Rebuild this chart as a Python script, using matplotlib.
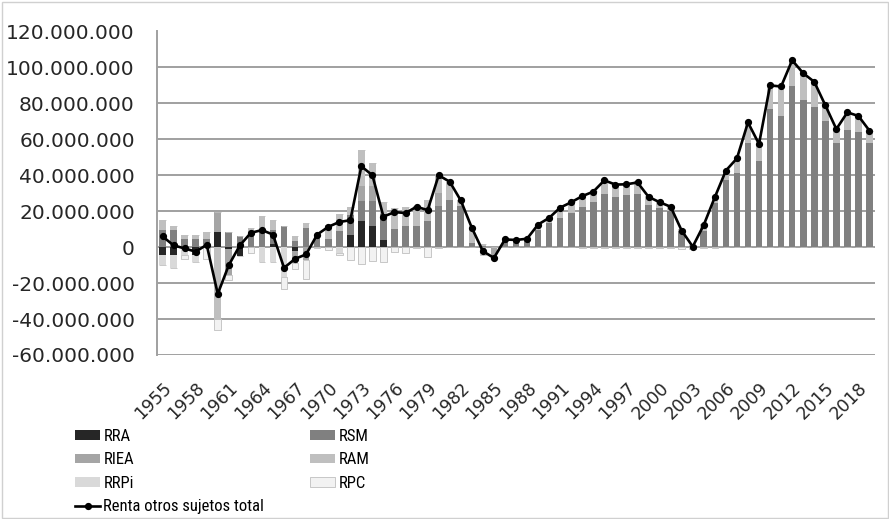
import matplotlib
matplotlib.use("Agg")
import matplotlib.pyplot as plt
from matplotlib.patches import Rectangle
import numpy as np

plt.rcParams["font.family"] = ["DejaVu Sans"]

years = list(range(1955, 2020))

RRA = [-4.6, -4.6, 0, -4.3, 0, 8.3, -0.8, -4.8, 0, 0, 1.9, 0, -2.2, 0, 0,
       0, 0, 7.0, 14.4, 11.7, 3.9, 0, 0, 0, 0, 0, 0, 0, 0, 0, 0, 0] + [0] * 33
RSM = [9.6, 9.3, 4.6, 4.6, 4.6, 0, 8.3, 6.1, 6.7, 10.2, 7.4, 11.7, 3.6, 10.7, 5.0,
       4.3, 8.9, 11.1, 11.1, 13.9, 14.3, 10.0, 11.7, 12.0, 14.4, 23.1, 26.5, 22.8, 2.4, 0.5, 0,
       3.0, 3.3, 3.8, 9.8, 13.5, 16.3, 19.1, 22.4, 25.0, 29.8, 28.1, 28.8, 29.4, 23.5, 22.0,
       20.2, 9.0, 0.8, 9.2, 24.8, 37.6, 41.3, 57.8, 47.9, 76.8, 73.1, 89.4, 82.0, 78.0,
       70.0, 57.7, 65.4, 64.0, 57.7]
RIEA = [0, 0, 0, 0, 0, 11.1, -14.9, 0, 0, 0, 0, 0, -6.5, -6.9, 0,
        0, 0, 0, 8.3, 8.3, 0, 0, 0, 0, 0, 7.0, 0, 0, 0, -3.2, -5.5] + [0] * 34
RAM = [5.7, 2.4, 1.9, 1.9, 3.7, -39.8, 0, 0, 4.0, 7.0, 5.9, 0, 2.5, 2.8, 2.0,
       8.2, 9.6, 4.3, 20.5, 13.0, 6.8, 12.0, 10.7, 11.0, 11.6, 10.4, 9.9, 3.2, 8.4, 1.5, 0,
       1.3, 0.7, 0.9, 2.8, 2.8, 5.7, 5.9, 6.5, 6.4, 8.0, 7.3, 6.6, 7.2, 5.1, 3.6,
       2.9, 1.0, 0.3, 3.5, 3.3, 5.0, 8.1, 11.6, 9.5, 13.2, 16.3, 14.6, 14.8, 14.0,
       9.0, 8.0, 9.6, 9.0, 7.1]
RRPi = [-5.6, -7.0, -4.6, -4.0, 0, 0, 0, 0, 0, -8.0, -8.0, -16.7, 0, 0, 0,
        0, -3.0, 0, 0, 0, 0, 0, 0, 0, 0, 0, 0, 0, 0, 0, 0] + [0] * 34
RPC = [0, 0, -2.2, 0, -6.5, -6.5, -2.4, 0, -3.0, 0, 0, -6.5, -3.7, -10.7, -0.5,
       -1.5, -1.5, -7.4, -9.5, -7.5, -8.0, -2.5, -3.4, -0.5, -5.4, -0.5, 0, 0, 0, -1.0, -0.5,
       0, 0, 0, 0, 0, 0, 0, -0.5, -0.5, -0.6, -0.6, -0.6, -0.6, -0.6, -0.6,
       -0.6, -0.8, -0.8, -0.3, -0.3, 0, 0, 0, 0, 0, 0, 0, 0, 0,
       0, 0, 0, 0, 0]
TOTAL = [6.0, 1.0, -0.7, -2.5, 1.3, -26.0, -10.0, 1.0, 8.0, 9.5, 7.0, -11.5, -6.5, -4.0, 7.0,
         11.3, 14.0, 15.0, 45.0, 40.0, 17.0, 19.5, 19.0, 22.5, 20.6, 40.0, 36.4, 26.0, 10.8, -2.2, -6.0,
         4.3, 4.0, 4.7, 12.6, 16.3, 22.0, 25.0, 28.4, 30.9, 37.2, 34.8, 35.0, 36.0, 28.0, 25.0,
         22.5, 9.2, 0.3, 12.4, 27.8, 42.6, 49.4, 69.4, 57.4, 90.0, 89.4, 104.0, 96.8, 92.0,
         79.0, 65.7, 75.0, 73.0, 64.8]

series_names = ["RRA", "RSM", "RIEA", "RAM", "RRPi", "RPC"]
series_vals = [RRA, RSM, RIEA, RAM, RRPi, RPC]
colors = ["#262626", "#808080", "#a5a5a5", "#bfbfbf", "#d9d9d9", "#f2f2f2"]
edges = [None, None, None, None, None, "#bfbfbf"]

W, H = 889, 519
fig = plt.figure(figsize=(W / 100, H / 100), dpi=100)
ax = fig.add_axes([157 / W, 1 - 355 / H, (875 - 157) / W, (355 - 31.5) / H])

x = np.arange(len(years))
pos_base = np.zeros(len(years))
neg_base = np.zeros(len(years))
handles = []
for name, vals, c, ec in zip(series_names, series_vals, colors, edges):
    v = np.array(vals, dtype=float) * 1e6
    pos = np.where(v > 0, v, 0)
    neg = np.where(v < 0, v, 0)
    kw = dict(width=0.6, color=c, zorder=3)
    if ec:
        kw.update(edgecolor=ec, linewidth=0.6)
    b = ax.bar(x, pos, bottom=pos_base, **kw)
    ax.bar(x, neg, bottom=neg_base, **kw)
    pos_base += pos
    neg_base += neg
    handles.append(b)

ln, = ax.plot(x, np.array(TOTAL) * 1e6, color="black", lw=1.9, marker="o",
              markersize=4.2, zorder=5)

tickfont = {"family": ["DejaVu Sans"]}
ax.set_ylim(-60e6, 120e6)
ax.set_xlim(-0.5, len(years) - 0.5)
yt = np.arange(-60e6, 120e6 + 1, 20e6)
ax.set_yticks(yt)
ax.set_yticklabels([f"{int(v):,}".replace(",", ".") for v in yt], fontsize=14.5,
                   color="#262626", fontdict=tickfont)
ax.set_xticks(x[::3])
ax.set_xticklabels([str(y) for y in years[::3]], rotation=45, ha="right",
                   rotation_mode="anchor", fontsize=12.5, color="#262626", fontdict=tickfont)
ax.tick_params(axis="y", length=0, pad=16)
ax.tick_params(axis="x", length=0, pad=17)
ax.grid(axis="y", color="#a0a0a0", lw=1.4, zorder=0)
for s in ["top", "right", "bottom"]:
    ax.spines[s].set_visible(False)
ax.spines["left"].set_color("#a0a0a0")
ax.spines["left"].set_linewidth(1.4)

legprops = {"family": ["Roboto Condensed", "Liberation Sans Narrow", "Roboto", "DejaVu Sans"], "size": 12}
legkw = dict(loc="upper left", frameon=False, prop=legprops, handlelength=1.5,
             handleheight=0.5, handletextpad=0.2, labelspacing=0.5, borderaxespad=0,
             borderpad=0)
fig.legend([handles[0], handles[2], handles[4], ln],
           ["RRA", "RIEA", "RRPi", "Renta otros sujetos total"],
           bbox_to_anchor=(75 / W, 1 - 429 / H), **legkw)
fig.legend([handles[1], handles[3], handles[5]], ["RSM", "RAM", "RPC"],
           bbox_to_anchor=(310 / W, 1 - 429 / H), **legkw)

fig.patches.append(Rectangle((1.5 / W, 1.5 / H), 1 - 3 / W, 1 - 3 / H, transform=fig.transFigure,
                             fill=False, edgecolor="#d0d0d0", lw=1))
fig.savefig("out.png", dpi=100)
